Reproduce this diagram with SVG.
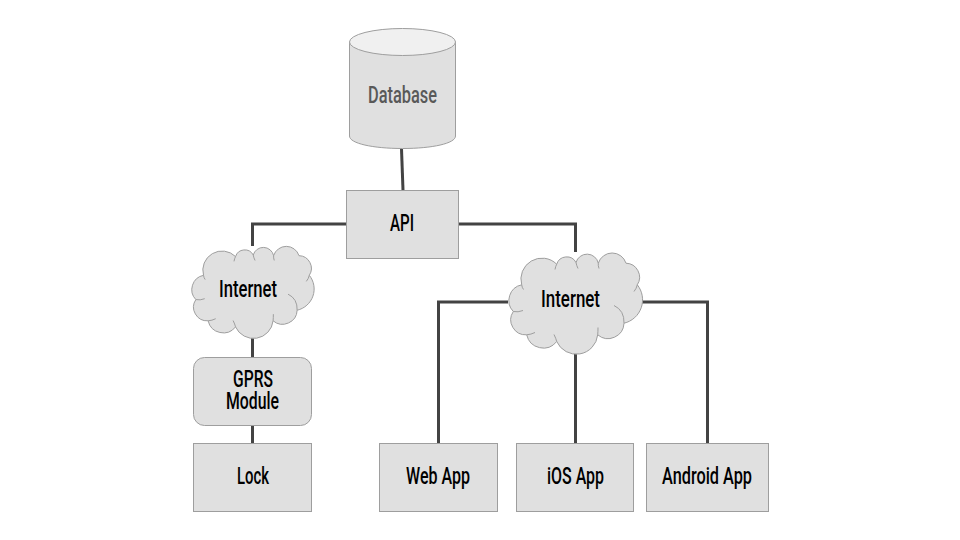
<svg xmlns="http://www.w3.org/2000/svg" xmlns:xlink="http://www.w3.org/1999/xlink" width="960" height="540" viewBox="0 0 960 540">
<style>
.s{fill:#e0e0e0;stroke:#9e9e9e;stroke-width:1}
.c{fill:none;stroke:#9e9e9e;stroke-width:1;vector-effect:non-scaling-stroke}
.f{fill:#e0e0e0;stroke:#9e9e9e;stroke-width:1;vector-effect:non-scaling-stroke}
.t{font-family:"Roboto","Liberation Sans",sans-serif;font-size:23px;font-weight:500;fill:#000;text-anchor:start}
#conn path{fill:none;stroke:#434343;stroke-width:3}
</style>
<defs>
<g id="cloud">
<path class="f" d="M13.700 33.300 A21 21 0 0 1 48.700 12.700 A10.500 10.500 0 0 1 68 11 A11.500 11.500 0 0 1 90.300 11.700 A14.500 14.500 0 0 1 118 11.700 A14 14 0 0 1 129.300 33.300 A24 24 0 0 1 116 71.700 A16 16 0 0 1 89.700 83.300 A21.500 21.500 0 0 1 48.700 90 A17 17 0 0 1 18.700 83.300 A15 15 0 0 1 5.300 60 A16 16 0 0 1 13.700 33.300 Z"/>
<path class="c" d="M13.700 33.300 Q14 36 15.500 38 M48.700 12.700 Q47.500 15 47 18 M68 11 Q68.500 14 70 17 M90.300 11.700 Q90 14 91 17 M129.300 33.300 Q128.500 37 126 40 M106 54 Q116.500 59 116 71.700 M89.700 83.300 Q90 80 90 76 M48.700 90 Q48 87 46 83 M18.700 83.300 Q23 83 27 81 M5.300 60 Q10 61 15 59"/>
</g>
</defs>
<g id="conn">
<path d="M401.500 149 L403 190"/>
<path d="M346 224 H252.500 V246"/>
<path d="M252.500 338 V358"/>
<path d="M252.500 425 V444"/>
<path d="M459 224 H575.500 V252"/>
<path d="M508 302 H438.500 V444"/>
<path d="M575.500 354 V444"/>
<path d="M641 302 H707.500 V444"/>
</g>
<g id="database">
<path class="s" d="M349.500 42 V136 C349.500 143.500 373 148.500 402.500 148.500 C432 148.500 455.500 143.500 455.500 136 V42 Z"/>
<ellipse cx="402.500" cy="42" rx="53" ry="13.500" fill="#f0f0f0" stroke="#9e9e9e"/>
<text class="t" x="368" y="103" textLength="69" lengthAdjust="spacingAndGlyphs" style="fill:#595959">Database</text>
</g>
<g id="api">
<rect class="s" x="346.500" y="190.500" width="112" height="68"/>
<text class="t" x="390" y="231" textLength="24" lengthAdjust="spacingAndGlyphs">API</text>
</g>
<g id="internet-left">
<use xlink:href="#cloud" href="#cloud" transform="translate(191 245) scale(0.915 0.91)"/>
<text class="t" x="219" y="297" textLength="58" lengthAdjust="spacingAndGlyphs">Internet</text>
</g>
<g id="internet-right">
<use xlink:href="#cloud" href="#cloud" transform="translate(508 251.500)"/>
<text class="t" x="541" y="307" textLength="59" lengthAdjust="spacingAndGlyphs">Internet</text>
</g>
<g id="gprs">
<rect class="s" x="193.500" y="357.500" width="118" height="68" rx="11"/>
<text class="t" x="233" y="387" textLength="40" lengthAdjust="spacingAndGlyphs">GPRS</text>
<text class="t" x="226" y="409" textLength="53" lengthAdjust="spacingAndGlyphs">Module</text>
</g>
<g id="lock">
<rect class="s" x="193.500" y="443.500" width="118" height="68"/>
<text class="t" x="237" y="484" textLength="32" lengthAdjust="spacingAndGlyphs">Lock</text>
</g>
<g id="web">
<rect class="s" x="379.500" y="443.500" width="118" height="68"/>
<text class="t" x="406" y="484" textLength="64" lengthAdjust="spacingAndGlyphs">Web App</text>
</g>
<g id="ios">
<rect class="s" x="516.500" y="443.500" width="117" height="68"/>
<text class="t" x="547" y="484" textLength="57" lengthAdjust="spacingAndGlyphs">iOS App</text>
</g>
<g id="android">
<rect class="s" x="646.500" y="443.500" width="122" height="68"/>
<text class="t" x="662" y="484" textLength="90" lengthAdjust="spacingAndGlyphs">Android App</text>
</g>
</svg>
